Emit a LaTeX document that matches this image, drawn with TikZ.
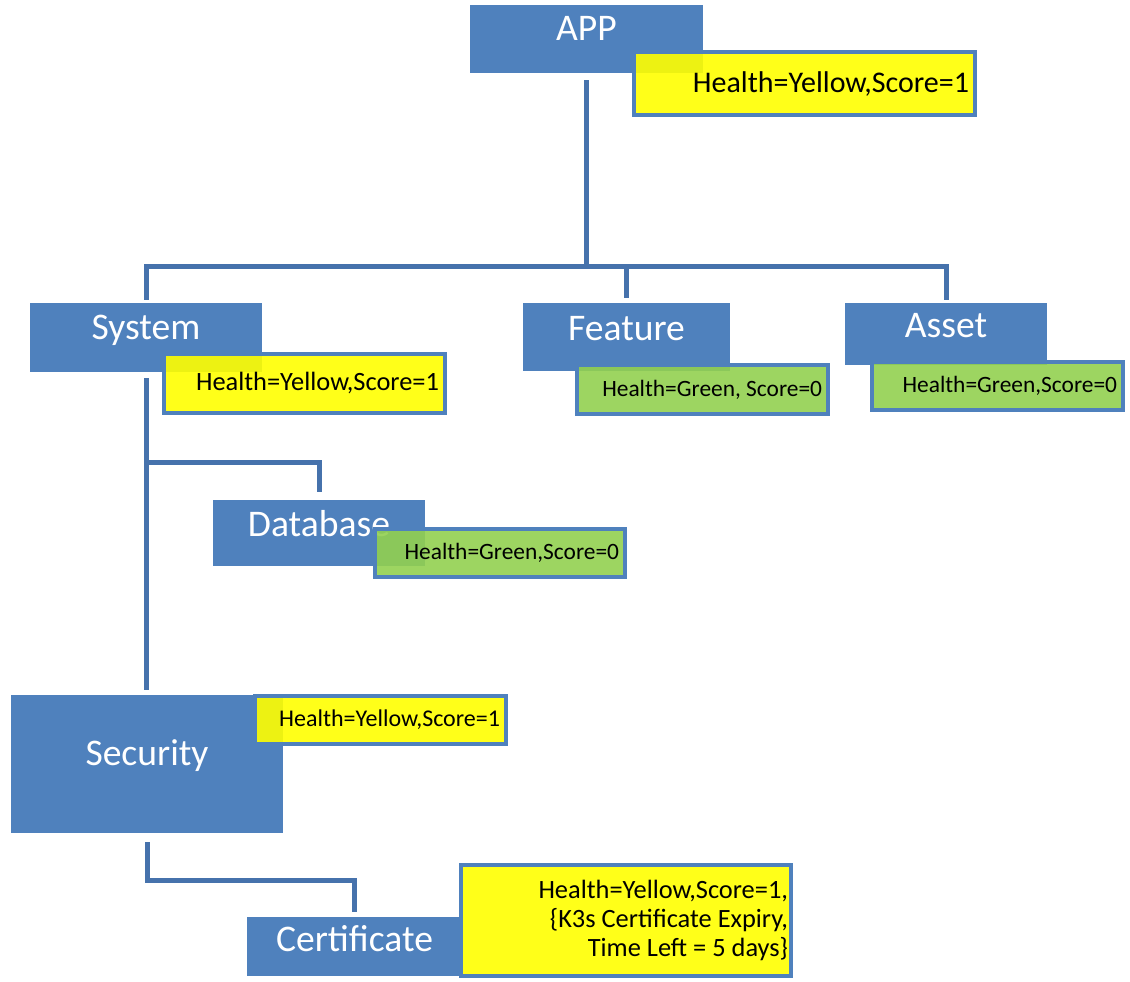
\documentclass[tikz,border=0pt]{standalone}
\usepackage{fontspec}
\setmainfont{Carlito}
\definecolor{cblue}{RGB}{79,129,189}
\definecolor{clink}{RGB}{70,114,172}
\definecolor{cyellow}{RGB}{255,255,0}
\definecolor{cgreen}{RGB}{146,208,80}

\begin{document}
\begin{tikzpicture}[x=0.5pt,y=-0.5pt,
        blk/.style={rectangle,fill=cblue,text=white,inner sep=0pt,
                    font=\fontsize{18.8}{22}\selectfont,text height=12pt},
        hlth/.style={rectangle,draw=cblue,line width=2pt,fill opacity=0.9,
                     text opacity=1,inner xsep=3pt,inner ysep=0pt,
                     align=flush right,text width=#1,
                     font=\fontsize{11.7}{14}\selectfont},
        conn/.style={draw=clink,line width=2.5pt}]

      \useasboundingbox (0,0) rectangle (1130,981);

      % component boxes
      \node[blk,minimum width=116.5pt,minimum height=34pt,text depth=11pt]
        (app) at (586.5,39) {APP};
      \node[blk,minimum width=116pt,minimum height=34.5pt,text depth=10.5pt]
        (system) at (146,337.5) {System};
      \node[blk,minimum width=103.5pt,minimum height=34pt,text depth=9pt]
        (feature) at (626.5,337) {Feature};
      \node[blk,minimum width=101pt,minimum height=31pt,text depth=8.5pt]
        (asset) at (946,334) {Asset};
      \node[blk,minimum width=106pt,minimum height=33pt,text depth=9pt]
        (database) at (319,533) {Database};
      \node[blk,minimum width=136pt,minimum height=69pt,text depth=11pt]
        (security) at (147,764) {Security};
      \node[blk,minimum width=107.5pt,minimum height=29.5pt,text depth=7.5pt]
        (certificate) at (354.5,946.5) {Certificate};

      % health boxes
      \node[hlth=164.5pt,fill=cyellow,minimum height=31.5pt,
            font=\fontsize{15}{17}\selectfont]
        (apph) at (804.5,83.5) {Health=Yellow,Score=1};
      \node[hlth=134.5pt,fill=cyellow,minimum height=29.5pt,
            font=\fontsize{13.2}{15}\selectfont]
        (systemh) at (304.5,383.5) {Health=Yellow,Score=1};
      \node[hlth=119.5pt,fill=cgreen,minimum height=24.5pt]
        (featureh) at (702.5,389.5) {Health=Green, Score=0};
      \node[hlth=119.5pt,fill=cgreen,minimum height=24pt]
        (asseth) at (997.5,386) {Health=Green,Score=0};
      \node[hlth=119pt,fill=cgreen,minimum height=24pt]
        (databaseh) at (500,553) {Health=Green,Score=0};
      \node[hlth=119.5pt,fill=cyellow,minimum height=24pt,
            font=\fontsize{12}{14}\selectfont]
        (securityh) at (380.5,720) {Health=Yellow,Score=1};
      \node[hlth=162pt,fill=cyellow,minimum height=55.5pt,inner xsep=1.5pt,
            font=\fontsize{13.2}{14.3}\selectfont]
        (certificateh) at (626,920.5) {Health=Yellow,Score=1,\\
                                       \{K3s Certificate Expiry,\\
                                       Time Left = 5 days\}};

      % tree links
      \coordinate (bus)   at (586.5,266);
      \coordinate (dbtap) at (146,462);

      \draw[conn,shorten <=3.5pt] (app.south) -- (bus);
      \draw[conn,shorten >=1.5pt] (bus) -| (system.north);
      \draw[conn,shorten >=1.5pt] (bus) -| (asset.north);
      \draw[conn,shorten >=2.5pt] (feature.north |- bus) -- (feature.north);
      \draw[conn,shorten <=3pt,shorten >=2.5pt]
        (system.south) -- (system.south |- security.north);
      \draw[conn,shorten >=4pt] (dbtap) -| (database.north);
      \draw[conn,shorten <=4.5pt,shorten >=2.5pt]
        (security.south) -- ++(0,47) -| (certificate.north);
    \end{tikzpicture}
\end{document}
